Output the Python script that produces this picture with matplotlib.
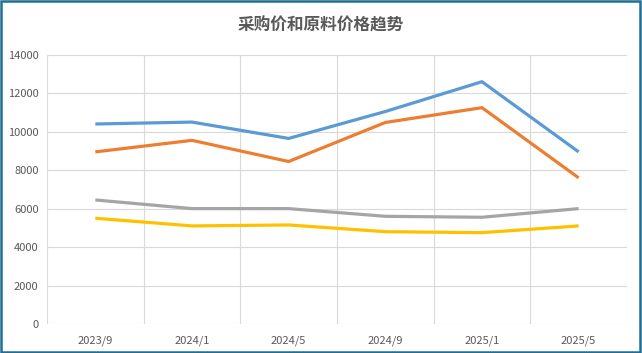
import matplotlib.pyplot as plt
from matplotlib.patches import Rectangle

plt.rcParams['font.family'] = ['Noto Sans CJK SC', 'DejaVu Sans']

# data
months = ['2023/9', '2024/1', '2024/5', '2024/9', '2025/1', '2025/5']
blue_vals = [10400, 10500, 9650, 11050, 12600, 8950]
orange_vals = [8950, 9550, 8450, 10480, 11250, 7600]
gray_vals = [6450, 6000, 6000, 5600, 5550, 6000]
yellow_vals = [5500, 5100, 5150, 4800, 4750, 5100]

series = [blue_vals, orange_vals, gray_vals, yellow_vals]
colors = ['#5B9BD5', '#ED7D31', '#A5A5A5', '#FFC000']

fig = plt.figure(figsize=(6.42, 3.53), dpi=100)
ax = fig.add_axes([0.0732, 0.0822, 0.9034, 0.7626])

x = list(range(len(months)))
for vals, c in zip(series, colors):
    ax.plot(x, vals, color=c, linewidth=2.3, solid_capstyle='butt', zorder=3)

ax.set_xlim(-0.5, len(months) - 0.5)
ax.set_ylim(0, 14000)
ax.set_yticks(range(0, 14001, 2000))
ax.set_xticks(x)
ax.set_xticklabels(months)
ax.set_xticks([i - 0.5 for i in range(len(months) + 1)], minor=True)

ax.grid(axis='y', color='#d9d9d9', linewidth=0.8)
ax.grid(axis='x', which='minor', color='#d9d9d9', linewidth=0.8)
ax.tick_params(which='both', length=0, labelsize=8, colors='#595959')
ax.tick_params(axis='x', pad=8)
ax.tick_params(axis='y', pad=6)
for s in ax.spines.values():
    s.set_visible(False)
ax.set_axisbelow(True)

fig.text(0.5, 0.928, '采购价和原料价格趋势', ha='center', va='center',
         fontsize=12, fontweight='bold', color='#595959')

# outer frame
fig.patches.append(Rectangle((0.0015, 0.003), 0.996, 0.994, transform=fig.transFigure,
                             fill=False, edgecolor='#1f6e96', linewidth=1.8))

fig.savefig('out.png', dpi=100)
